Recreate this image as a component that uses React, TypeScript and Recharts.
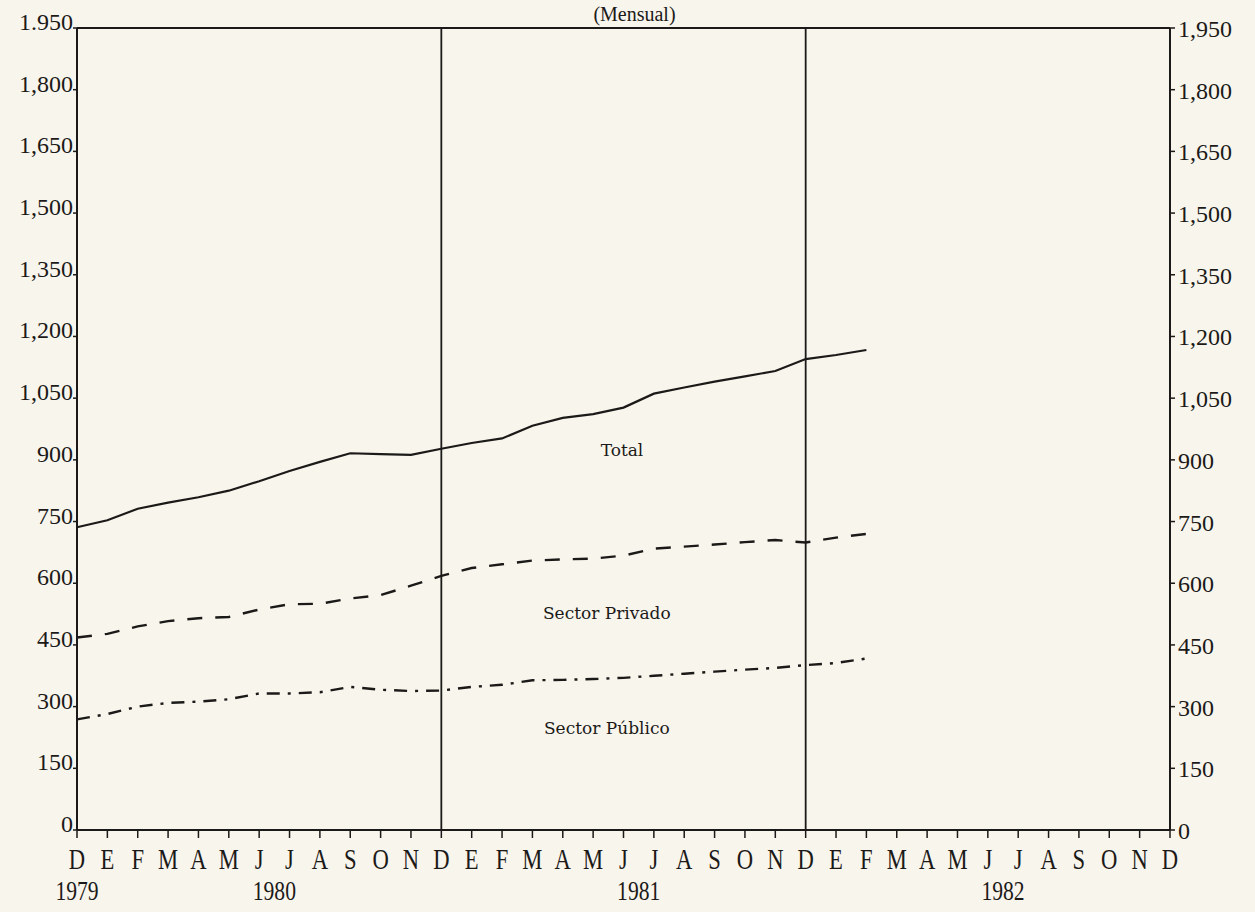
import React from "react";
import {
  Line,
  LineChart,
  ReferenceDot,
  ReferenceLine,
  XAxis,
  YAxis,
} from "recharts";

// Meses de D 1979 a D 1982 (37 posiciones en el eje).
const monthLetters = [
  "D", "E", "F", "M", "A", "M", "J", "J", "A", "S", "O", "N",
  "D", "E", "F", "M", "A", "M", "J", "J", "A", "S", "O", "N",
  "D", "E", "F", "M", "A", "M", "J", "J", "A", "S", "O", "N", "D",
];
const yearTicks = [0, 6.5, 18.5, 30.5];
const yearLabels = ["1979", "1980", "1981", "1982"];

const yTicks = [0, 150, 300, 450, 600, 750, 900, 1050, 1200, 1350, 1500, 1650, 1800, 1950];
const leftTickLabels = ["0", "150", "300", "450", "600", "750", "900", "1,050", "1,200", "1,350", "1,500", "1,650", "1,800", "1.950"];
const rightTickLabels = ["0", "150", "300", "450", "600", "750", "900", "1,050", "1,200", "1,350", "1,500", "1,650", "1,800", "1,950"];

// D 1979 .. F 1982 (27 meses)
const totalValues = [
  736, 753, 781, 796, 809, 825, 848, 873, 895, 916, 914, 912,
  927, 941, 952, 983, 1002, 1011, 1027, 1061, 1076, 1090, 1103, 1116,
  1145, 1155, 1167,
];
const privadoValues = [
  468, 477, 495, 508, 515, 518, 536, 549, 550, 563, 571, 594,
  618, 637, 646, 655, 658, 660, 667, 684, 689, 694, 700, 705,
  699, 711, 720,
];
const publicoValues = [
  269, 282, 300, 309, 312, 318, 332, 332, 335, 348, 341, 338,
  339, 348, 353, 364, 365, 367, 370, 375, 380, 385, 390, 394,
  401, 406, 417,
];

const data = totalValues.map((t, i) => ({
  idx: i,
  total: t,
  privado: privadoValues[i],
  publico: publicoValues[i],
}));

const INK = "#1c1a18";
const SERIF = "'Liberation Serif', 'DejaVu Serif', serif";
const SLAB = "'DejaVu Serif', serif";

function LeftTick({ x, y, payload }: any) {
  const i = yTicks.indexOf(payload.value);
  return (
    <text x={x} y={y + 2} textAnchor="end" fontFamily={SERIF} fontSize={24} fill={INK}>
      {leftTickLabels[i]}
    </text>
  );
}

function RightTick({ x, y, payload }: any) {
  const i = yTicks.indexOf(payload.value);
  return (
    <text x={x} y={y + 9} textAnchor="start" fontFamily={SERIF} fontSize={24} fill={INK}>
      {rightTickLabels[i]}
    </text>
  );
}

function MonthTick({ x, y, payload }: any) {
  return (
    <text
      transform={`translate(${x},${y + 29}) scale(0.78,1)`}
      textAnchor="middle"
      fontFamily={SERIF}
      fontSize={29}
      fill={INK}
    >
      {monthLetters[payload.value]}
    </text>
  );
}

function YearTick({ x, y, payload }: any) {
  const i = yearTicks.indexOf(payload.value);
  return (
    <text
      transform={`translate(${x},${y + 18}) scale(0.8,1)`}
      textAnchor="middle"
      fontFamily={SERIF}
      fontSize={27}
      fill={INK}
    >
      {yearLabels[i]}
    </text>
  );
}

const seriesLabel = (value: string) => ({
  value,
  position: "center" as const,
  fontFamily: SLAB,
  fontSize: 17,
  fill: INK,
});

export default function App() {
  return (
    <div
      style={{
        position: "absolute",
        left: 0,
        top: 0,
        width: 1255,
        height: 912,
        background: "#f8f5ed",
      }}
    >
      <div
        style={{
          position: "absolute",
          left: 0,
          width: 1255,
          top: 3,
          textAlign: "center",
          paddingLeft: 14,
          boxSizing: "border-box",
          fontFamily: SERIF,
          fontSize: 20,
          color: INK,
        }}
      >
        (Mensual)
      </div>
      <LineChart
        width={1255}
        height={912}
        data={data}
        margin={{ top: 28, right: 15, bottom: 0, left: 17 }}
      >
        <XAxis
          xAxisId="m"
          dataKey="idx"
          type="number"
          domain={[0, 36]}
          ticks={monthLetters.map((_, i) => i)}
          interval={0}
          tick={<MonthTick />}
          tickSize={8}
          height={44}
          axisLine={{ stroke: INK, strokeWidth: 2 }}
          tickLine={{ stroke: INK, strokeWidth: 1.5 }}
        />
        <XAxis
          xAxisId="y"
          dataKey="idx"
          type="number"
          domain={[0, 36]}
          ticks={yearTicks}
          interval={0}
          tick={<YearTick />}
          axisLine={false}
          tickLine={false}
          height={38}
        />
        <YAxis
          yAxisId="left"
          domain={[0, 1950]}
          ticks={yTicks}
          interval={0}
          width={60}
          tickSize={4}
          tickMargin={0}
          tick={<LeftTick />}
          axisLine={{ stroke: INK, strokeWidth: 2 }}
          tickLine={{ stroke: INK, strokeWidth: 1.5 }}
        />
        <YAxis
          yAxisId="right"
          orientation="right"
          domain={[0, 1950]}
          ticks={yTicks}
          interval={0}
          width={70}
          tickSize={5}
          tickMargin={3}
          tick={<RightTick />}
          axisLine={{ stroke: INK, strokeWidth: 2 }}
          tickLine={{ stroke: INK, strokeWidth: 1.5 }}
        />
        <ReferenceLine xAxisId="m" yAxisId="left" y={1950} stroke={INK} strokeWidth={2} />
        <ReferenceLine xAxisId="m" yAxisId="left" x={12} stroke={INK} strokeWidth={1.8} />
        <ReferenceLine xAxisId="m" yAxisId="left" x={24} stroke={INK} strokeWidth={1.8} />
        <Line
          xAxisId="m"
          yAxisId="left"
          type="linear"
          dataKey="total"
          stroke={INK}
          strokeWidth={2.2}
          dot={false}
          isAnimationActive={false}
        />
        <Line
          xAxisId="m"
          yAxisId="left"
          type="linear"
          dataKey="privado"
          stroke={INK}
          strokeWidth={2.4}
          strokeDasharray="15 13"
          dot={false}
          isAnimationActive={false}
        />
        <Line
          xAxisId="m"
          yAxisId="right"
          type="linear"
          dataKey="publico"
          stroke={INK}
          strokeWidth={2.4}
          strokeDasharray="13 8 3 8"
          dot={false}
          isAnimationActive={false}
        />
        <ReferenceDot xAxisId="m" yAxisId="left" x={17.95} y={924} r={0} label={seriesLabel("Total")} />
        <ReferenceDot xAxisId="m" yAxisId="left" x={17.45} y={528} r={0} label={seriesLabel("Sector Privado")} />
        <ReferenceDot xAxisId="m" yAxisId="left" x={17.45} y={248} r={0} label={seriesLabel("Sector Público")} />
      </LineChart>
    </div>
  );
}
